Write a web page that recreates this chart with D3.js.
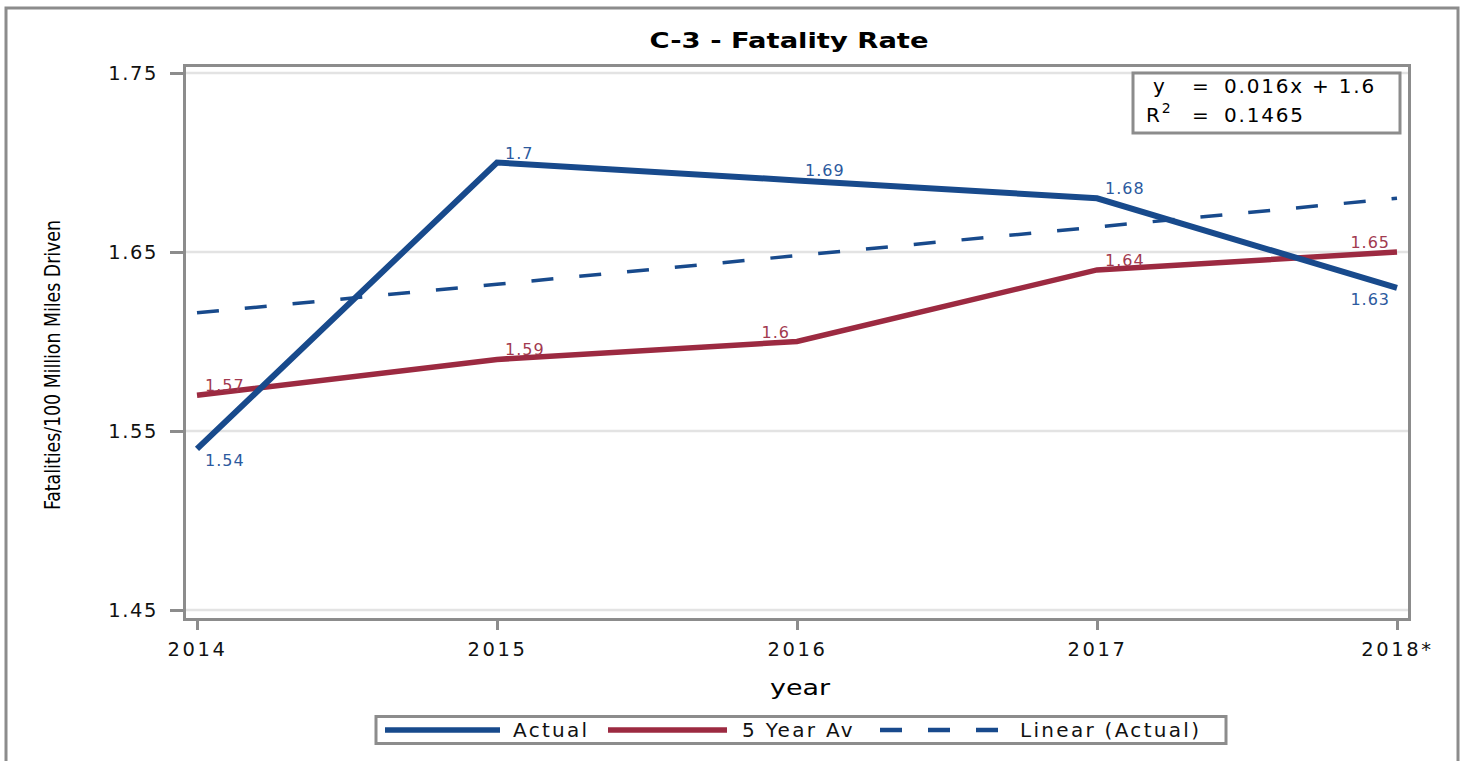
<!DOCTYPE html>
<html>
<head>
    <meta charset="utf-8">
    <script src="https://d3js.org/d3.v7.min.js"></script>
    <style>
        body { margin: 0; background: #fff; }
        text { font-family: "DejaVu Sans", Verdana, sans-serif; }
    </style>
</head>
<body>
<script>
    // values
    var years = ["2014", "2015", "2016", "2017", "2018*"];
    var actual = [1.54, 1.70, 1.69, 1.68, 1.63];
    var fiveYearAv = [1.57, 1.59, 1.60, 1.64, 1.65];
    var linearActual = [1.616, 1.632, 1.648, 1.664, 1.680];
    var yTicks = [1.45, 1.55, 1.65, 1.75];
    var equation = ["y", "0.016x + 1.6"];
    var rSquared = "0.1465";

    var width = 1467, height = 761;
    var blue = "#184a8c", red = "#9c2a41";
    var blueText = "#2c5a9e", redText = "#a23a50";

    var svg = d3.select("body").append("svg")
        .attr("width", width)
        .attr("height", height);

    // outer frame
    svg.append("rect")
        .attr("x", 6).attr("y", 8)
        .attr("width", 1452).attr("height", 760)
        .attr("fill", "none")
        .attr("stroke", "#8c8c8c")
        .attr("stroke-width", 3);

    var x = d3.scalePoint().domain(years).range([197, 1397]);
    var y = d3.scaleLinear().domain([1.45, 1.75]).range([610, 73]);

    // gridlines
    svg.append("g").selectAll("line")
      .data(yTicks)
      .enter().append("line")
        .attr("x1", 186).attr("x2", 1408)
        .attr("y1", y).attr("y2", y)
        .attr("stroke", "#e3e3e3")
        .attr("stroke-width", 2.5);

    // plot frame
    svg.append("rect")
        .attr("x", 184.5).attr("y", 65.5)
        .attr("width", 1225).attr("height", 554)
        .attr("fill", "none")
        .attr("stroke", "#8c8c8c")
        .attr("stroke-width", 3);

    var yAxis = svg.append("g")
        .attr("transform", "translate(183,0)")
        .call(d3.axisLeft(y).tickValues(yTicks).tickFormat(d3.format(".2f")).tickSize(13).tickPadding(12));
    var xAxis = svg.append("g")
        .attr("transform", "translate(0,621)")
        .call(d3.axisBottom(x).tickSize(9).tickPadding(8));

    [yAxis, xAxis].forEach(function(ax) {
        ax.select(".domain").remove();
        ax.selectAll(".tick line").attr("stroke", "#8c8c8c").attr("stroke-width", 3);
        ax.selectAll(".tick text")
            .attr("fill", "#111")
            .style("font-size", "19.5px")
            .style("font-family", "DejaVu Sans");
    });
    yAxis.selectAll(".tick text").style("letter-spacing", "1.6px");
    xAxis.selectAll(".tick text").attr("dy", "0.9em").style("letter-spacing", "2.6px");

    // title and axis titles
    svg.append("text")
        .attr("x", 789).attr("y", 48)
        .attr("text-anchor", "middle")
        .attr("textLength", 279)
        .attr("lengthAdjust", "spacingAndGlyphs")
        .style("font-size", "22px")
        .style("font-weight", "bold")
        .text("C-3 - Fatality Rate");

    svg.append("text")
        .attr("x", 800).attr("y", 695)
        .attr("text-anchor", "middle")
        .attr("textLength", 60)
        .attr("lengthAdjust", "spacingAndGlyphs")
        .style("font-size", "22px")
        .text("year");

    svg.append("text")
        .attr("transform", "translate(60,365) rotate(-90)")
        .attr("text-anchor", "middle")
        .attr("textLength", 290)
        .attr("lengthAdjust", "spacingAndGlyphs")
        .style("font-family", "'Liberation Sans Narrow', 'DejaVu Sans Condensed', sans-serif")
        .style("font-size", "22px")
        .text("Fatalities/100 Million Miles Driven");

    var line = d3.line()
        .x(function(d, i) { return x(years[i]); })
        .y(function(d) { return y(d); });

    svg.append("path")
        .datum(linearActual)
        .attr("d", line)
        .attr("fill", "none")
        .attr("stroke", blue)
        .attr("stroke-width", 3.5)
        .attr("stroke-dasharray", "22,26");

    svg.append("path")
        .datum(fiveYearAv)
        .attr("d", line)
        .attr("fill", "none")
        .attr("stroke", red)
        .attr("stroke-width", 5.5);

    svg.append("path")
        .datum(actual)
        .attr("d", line)
        .attr("fill", "none")
        .attr("stroke", blue)
        .attr("stroke-width", 6);

    // data labels: "a" above / "b" below, "s" start right of point / "e" end left of point
    var place = {
        actual: ["bs", "as", "as", "as", "be"],
        fiveYearAv: ["as", "as", "ae", "as", "ae"]
    };

    function labels(values, where, colour) {
        svg.append("g").selectAll("text")
          .data(values)
          .enter().append("text")
            .attr("x", function(d, i) { return x(years[i]) + (where[i][1] == "s" ? 8 : -7); })
            .attr("y", function(d, i) { return y(d) + (where[i][0] == "a" ? -4 : 17); })
            .attr("text-anchor", function(d, i) { return where[i][1] == "s" ? "start" : "end"; })
            .attr("fill", colour)
            .style("font-size", "16px")
            .style("letter-spacing", "1px")
            .text(function(d) { return d3.format("")(+d.toFixed(2)); });
    }
    labels(actual, place.actual, blueText);
    labels(fiveYearAv, place.fiveYearAv, redText);

    // equation box
    svg.append("rect")
        .attr("x", 1133).attr("y", 73)
        .attr("width", 267).attr("height", 60)
        .attr("fill", "#fff")
        .attr("stroke", "#8c8c8c")
        .attr("stroke-width", 3);

    var eq = svg.append("g").style("font-size", "20px").style("letter-spacing", "1.8px");
    eq.append("text").attr("x", 1153).attr("y", 93).text(equation[0]);
    eq.append("text").attr("x", 1192).attr("y", 93).text("=");
    eq.append("text").attr("x", 1224).attr("y", 93).text(equation[1]);
    var r2 = eq.append("text").attr("x", 1146).attr("y", 122);
    r2.append("tspan").text("R");
    r2.append("tspan").attr("dy", -9).style("font-size", "14px").text("2");
    eq.append("text").attr("x", 1192).attr("y", 122).text("=");
    eq.append("text").attr("x", 1224).attr("y", 122).text(rSquared);

    // legend
    var legendItems = [
        {name: "Actual", colour: blue, width: 5.5, dash: null, x1: 385, x2: 500, tx: 513},
        {name: "5 Year Av", colour: red, width: 5.5, dash: null, x1: 608, x2: 727, tx: 742},
        {name: "Linear (Actual)", colour: blue, width: 4.5, dash: "22,26", x1: 880, x2: 1005, tx: 1020}
    ];

    svg.append("rect")
        .attr("x", 376).attr("y", 716.5)
        .attr("width", 850).attr("height", 27)
        .attr("fill", "#fff")
        .attr("stroke", "#8c8c8c")
        .attr("stroke-width", 3);

    var legend = svg.append("g").selectAll("g")
      .data(legendItems)
      .enter().append("g");

    legend.append("line")
        .attr("x1", function(d) { return d.x1; })
        .attr("x2", function(d) { return d.x2; })
        .attr("y1", 730).attr("y2", 730)
        .attr("stroke", function(d) { return d.colour; })
        .attr("stroke-width", function(d) { return d.width; })
        .attr("stroke-dasharray", function(d) { return d.dash; });

    legend.append("text")
        .attr("x", function(d) { return d.tx; })
        .attr("y", 737)
        .style("font-size", "20px")
        .style("letter-spacing", "2.3px")
        .attr("fill", "#111")
        .text(function(d) { return d.name; });
</script>
</body>
</html>
